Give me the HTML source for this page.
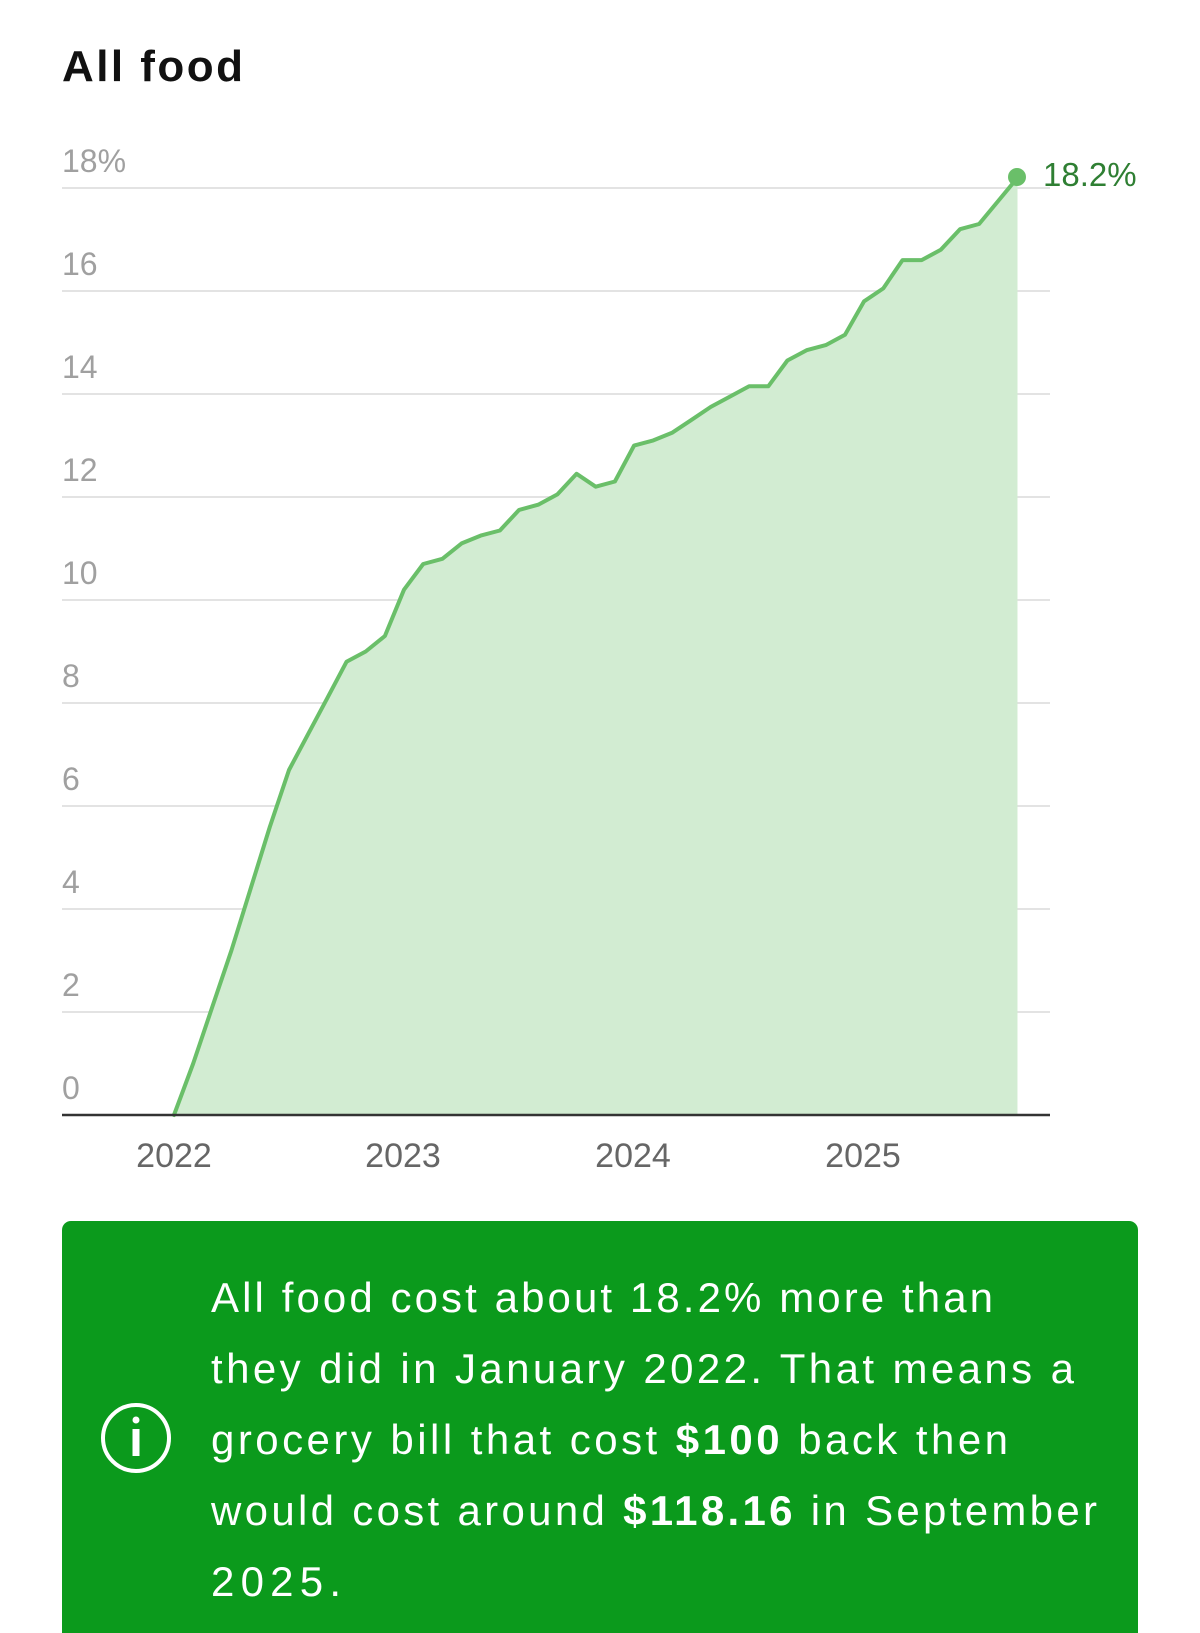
<!DOCTYPE html>
<html><head><meta charset="utf-8"><style>
html,body{margin:0;padding:0;background:#fff;}
body{width:1200px;height:1633px;overflow:hidden;position:relative;font-family:"Liberation Sans",sans-serif;}
</style></head><body>
<svg id="s" width="1200" height="1633" viewBox="0 0 1200 1633" xmlns="http://www.w3.org/2000/svg" style="position:absolute;left:0;top:0">
<text x="62" y="81" font-size="44" font-weight="bold" fill="#111" font-family="Liberation Sans, sans-serif" textLength="181" lengthAdjust="spacing">All food</text>
<g id="grid" stroke="#e3e3e3" stroke-width="2"></g>
<g id="ylab" font-size="32" fill="#a0a0a0" font-family="Liberation Sans, sans-serif"></g>
<path id="area" fill="#d2ecd2" stroke="none"/>
<path id="line" fill="none" stroke="#6abf69" stroke-width="4" stroke-linejoin="round" stroke-linecap="round"/>
<line x1="62" y1="1115" x2="1050" y2="1115" stroke="#333" stroke-width="2.5"/>
<circle cx="1017" cy="177" r="9" fill="#6abf69"/>
<text x="1043" y="186" font-size="33" fill="#2f7f33" font-family="Liberation Sans, sans-serif">18.2%</text>
<g font-size="34" fill="#666" text-anchor="middle" font-family="Liberation Sans, sans-serif">
<text x="174" y="1167">2022</text><text x="403" y="1167">2023</text><text x="633" y="1167">2024</text><text x="863" y="1167">2025</text>
</g>
<rect x="62" y="1221" width="1076" height="440" rx="9" fill="#0b9a1c"/>
<circle cx="136" cy="1438" r="33" fill="none" stroke="#fff" stroke-width="4"/>
<circle cx="136" cy="1420" r="3.5" fill="#fff"/>
<rect x="132.5" y="1429" width="7" height="27" fill="#fff"/>
<g font-size="42" fill="#fff" font-family="Liberation Sans, sans-serif">
<text x="211" y="1312" textLength="782" lengthAdjust="spacing">All food cost about 18.2% more than</text>
<text x="211" y="1383" textLength="863" lengthAdjust="spacing">they did in January 2022. That means a</text>
<text x="211" y="1454" textLength="797" lengthAdjust="spacing">grocery bill that cost <tspan font-weight="bold">$100</tspan> back then</text>
<text x="211" y="1525" textLength="886" lengthAdjust="spacing">would cost around <tspan font-weight="bold">$118.16</tspan> in September</text>
<text x="211" y="1596" textLength="130" lengthAdjust="spacing">2025.</text>
</g>
</svg>
<script>
var v=[0,1.0,2.1,3.2,4.4,5.6,6.7,7.4,8.1,8.8,9.0,9.3,10.2,10.7,10.8,11.1,11.25,11.35,11.75,11.85,12.05,12.45,12.2,12.3,13.0,13.1,13.25,13.5,13.75,13.95,14.15,14.15,14.65,14.85,14.95,15.15,15.8,16.05,16.6,16.6,16.8,17.2,17.3,17.75,18.2];
var d="";v.forEach(function(y,i){var X=174+19.17*i,Y=1115-y*51.5;d+=(i?"L":"M")+X.toFixed(1)+" "+Y.toFixed(1);});
document.getElementById("line").setAttribute("d",d);
var xe=174+19.17*44;
document.getElementById("area").setAttribute("d",d+"L"+xe+" 1115L174 1115Z");
var g=document.getElementById("grid"),l=document.getElementById("ylab"),ns="http://www.w3.org/2000/svg";
for(var k=1;k<=9;k++){var y=1115-k*103;var ln=document.createElementNS(ns,"line");ln.setAttribute("x1",62);ln.setAttribute("x2",1050);ln.setAttribute("y1",y);ln.setAttribute("y2",y);g.appendChild(ln);}
for(var k=0;k<=9;k++){var t=document.createElementNS(ns,"text");t.setAttribute("x",62);t.setAttribute("y",1115-k*103-16);t.textContent=k==9?"18%":String(k*2);l.appendChild(t);}
</script>
</body></html>
